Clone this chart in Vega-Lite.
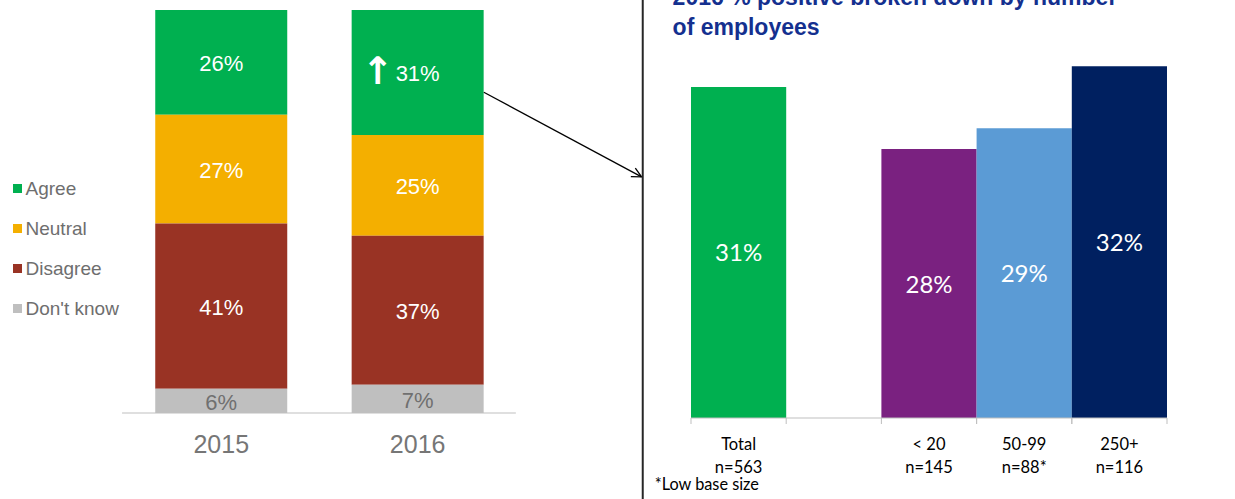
{
  "$schema": "https://vega.github.io/schema/vega-lite/v6.json",
  "width": 1235,
  "height": 413,
  "autosize": "none",
  "padding": {"left": 0, "top": 0, "right": 0, "bottom": 86},
  "config": {"view": {"stroke": null}, "font": "Liberation Sans"},
  "layer": [
    {
      "data": {"values": [
        {"year": 2015, "response": "Agree", "pct": 26, "label": "26%"},
        {"year": 2015, "response": "Neutral", "pct": 27, "label": "27%"},
        {"year": 2015, "response": "Disagree", "pct": 41, "label": "41%"},
        {"year": 2015, "response": "Don't know", "pct": 6, "label": "6%"},
        {"year": 2016, "response": "Agree", "pct": 31, "label": "31%", "trend": "up"},
        {"year": 2016, "response": "Neutral", "pct": 25, "label": "25%"},
        {"year": 2016, "response": "Disagree", "pct": 37, "label": "37%"},
        {"year": 2016, "response": "Don't know", "pct": 7, "label": "7%"}
      ]},
      "transform": [
        {"calculate": "indexof([\"Don't know\",\"Disagree\",\"Neutral\",\"Agree\"], datum.response)", "as": "stackOrder"},
        {"stack": "pct", "groupby": ["year"], "sort": [{"field": "stackOrder", "order": "ascending"}], "as": ["y0", "y1"]},
        {"calculate": "(datum.y0 + datum.y1) / 2", "as": "ymid"}
      ],
      "layer": [
        {
          "mark": {"type": "bar", "width": 132},
          "encoding": {
            "x": {"field": "year", "type": "quantitative", "axis": null,
              "scale": {"domain": [2013.899, 2020.136], "nice": false, "zero": false}},
            "y": {"field": "y0", "type": "quantitative", "scale": {"domain": [0, 102.48], "nice": false, "zero": false}, "axis": null},
            "y2": {"field": "y1"},
            "color": {"field": "response", "type": "nominal",
              "scale": {"domain": ["Agree", "Neutral", "Disagree", "Don't know"], "range": ["#00B050", "#F4AF00", "#993324", "#BFBFBF"]},
              "legend": {"orient": "none", "legendX": 8, "legendY": 179, "title": null, "symbolType": "square", "symbolSize": 81,
                "symbolStrokeWidth": 0, "labelFontSize": 19, "labelColor": "#6E6E6E", "labelFont": "Liberation Sans",
                "rowPadding": 20, "labelOffset": -1.5, "padding": 0}}
          }
        },
        {
          "mark": {"type": "text", "fontSize": 22, "font": "Liberation Sans", "baseline": "middle", "dy": 2},
          "encoding": {
            "x": {"field": "year", "type": "quantitative", "axis": null},
            "y": {"field": "ymid", "type": "quantitative", "axis": null},
            "text": {"field": "label"},
            "color": {"condition": {"test": "datum.response === \"Don't know\"", "value": "#707070"}, "value": "#FFFFFF"}
          }
        },
        {
          "transform": [{"filter": "datum.trend === 'up'"}],
          "mark": {"type": "text", "fontSize": 38, "fontWeight": "bold", "font": "DejaVu Sans", "baseline": "middle", "dx": -40, "dy": 1, "color": "#FFFFFF"},
          "encoding": {
            "x": {"field": "year", "type": "quantitative", "axis": null},
            "y": {"field": "ymid", "type": "quantitative", "axis": null},
            "text": {"value": "↑"}
          }
        },
        {
          "transform": [{"filter": "datum.response === 'Agree'"}],
          "mark": {"type": "text", "fontSize": 25, "font": "Liberation Sans", "baseline": "alphabetic", "color": "#767676"},
          "encoding": {
            "x": {"field": "year", "type": "quantitative", "axis": null},
            "y": {"datum": -9.93, "type": "quantitative", "axis": null},
            "text": {"field": "year", "type": "quantitative", "format": "d"}
          }
        },
        {
          "data": {"values": [{}]},
          "mark": {"type": "rule", "color": "#BFBFBF", "strokeWidth": 1},
          "encoding": {
            "x": {"datum": 2014.495, "type": "quantitative", "axis": null},
            "x2": {"datum": 2016.5},
            "y": {"datum": 0, "type": "quantitative", "axis": null}
          }
        },
        {
          "data": {"values": [{}]},
          "mark": {"type": "rule", "color": "#000000", "strokeWidth": 1.3},
          "encoding": {
            "x": {"datum": 2016.337, "type": "quantitative", "axis": null},
            "x2": {"datum": 2017.14},
            "y": {"datum": 79.6, "type": "quantitative", "axis": null},
            "y2": {"datum": 58.6}
          }
        },
        {
          "data": {"values": [{}]},
          "mark": {"type": "point", "shape": "M-1.6,-0.8L0,0L-1.6,0.8", "filled": false, "size": 144, "angle": 28, "stroke": "#000000", "strokeWidth": 1.3, "opacity": 1},
          "encoding": {
            "x": {"datum": 2017.14, "type": "quantitative", "axis": null},
            "y": {"datum": 58.6, "type": "quantitative", "axis": null}
          }
        },
        {
          "data": {"values": [{}]},
          "mark": {"type": "rule", "color": "#262626", "strokeWidth": 2},
          "encoding": {
            "x": {"datum": 2017.146, "type": "quantitative", "axis": null},
            "y": {"datum": 104, "type": "quantitative", "axis": null},
            "y2": {"datum": -22}
          }
        },
        {
          "data": {"values": [{}]},
          "mark": {"type": "text", "align": "left", "baseline": "alphabetic", "lineHeight": 30, "fontSize": 23, "fontWeight": "bold", "font": "Liberation Sans", "color": "#14308F"},
          "encoding": {
            "x": {"datum": 2017.298, "type": "quantitative", "axis": null},
            "y": {"datum": 101.24, "type": "quantitative", "axis": null},
            "text": {"value": ["2016 % positive broken down by number", "of employees"]}
          }
        },
        {
          "data": {"values": [{}]},
          "mark": {"type": "text", "align": "left", "baseline": "alphabetic", "fontSize": 16.3, "font": "Lato", "color": "#000000"},
          "encoding": {
            "x": {"datum": 2017.207, "type": "quantitative", "axis": null},
            "y": {"datum": -19.1, "type": "quantitative", "axis": null},
            "text": {"value": "*Low base size"}
          }
        }
      ]
    },
    {
      "data": {"values": [
        {"group": "Total\nn=563", "value": 31, "label": "31%"},
        {"group": "< 20\nn=145", "value": 28, "label": "28%"},
        {"group": "50-99\nn=88*", "value": 29, "label": "29%"},
        {"group": "250+\nn=116", "value": 32, "label": "32%"}
      ]},
      "transform": [{"calculate": "(datum.value + 15) / 2", "as": "mid"}],
      "layer": [
        {
          "mark": {"type": "bar"},
          "encoding": {
            "x": {"field": "group", "type": "nominal", "axis": null,
              "scale": {"domain": ["Total\nn=563", " ", "< 20\nn=145", "50-99\nn=88*", "250+\nn=116"], "range": [691, 1167], "paddingInner": 0, "paddingOuter": 0}},
            "y": {"field": "value", "type": "quantitative", "scale": {"domain": [15.242, 35.203], "nice": false, "zero": false}, "axis": null},
            "y2": {"datum": 15},
            "color": {"field": "group", "type": "nominal",
              "scale": {"domain": ["Total\nn=563", "< 20\nn=145", "50-99\nn=88*", "250+\nn=116"], "range": ["#00B050", "#7A2180", "#5B9BD5", "#002060"]},
              "legend": null}
          }
        },
        {
          "mark": {"type": "text", "fontSize": 24, "font": "Lato", "baseline": "middle", "dy": 2, "color": "#FFFFFF"},
          "encoding": {
            "x": {"field": "group", "type": "nominal", "axis": null},
            "y": {"field": "mid", "type": "quantitative", "axis": null},
            "text": {"field": "label"}
          }
        },
        {
          "mark": {"type": "text", "fontSize": 16.5, "font": "Lato", "baseline": "alphabetic", "lineBreak": "\n", "lineHeight": 23, "color": "#000000"},
          "encoding": {
            "x": {"field": "group", "type": "nominal", "axis": null},
            "y": {"datum": 13.453, "type": "quantitative", "axis": null},
            "text": {"field": "group"}
          }
        },
        {
          "data": {"values": [{}]},
          "mark": {"type": "rule", "color": "#BFBFBF", "strokeWidth": 1, "xOffset": -47.6, "x2Offset": 47.6},
          "encoding": {
            "x": {"datum": "Total\nn=563", "type": "nominal", "axis": null},
            "x2": {"datum": "250+\nn=116"},
            "y": {"datum": 15, "type": "quantitative", "axis": null}
          }
        },
        {
          "mark": {"type": "rule", "color": "#BFBFBF", "strokeWidth": 1, "xOffset": -47.6},
          "encoding": {
            "x": {"field": "group", "type": "nominal", "axis": null},
            "y": {"datum": 15, "type": "quantitative", "axis": null},
            "y2": {"datum": 14.71}
          }
        },
        {
          "mark": {"type": "rule", "color": "#BFBFBF", "strokeWidth": 1, "xOffset": 47.6},
          "encoding": {
            "x": {"field": "group", "type": "nominal", "axis": null},
            "y": {"datum": 15, "type": "quantitative", "axis": null},
            "y2": {"datum": 14.71}
          }
        }
      ]
    }
  ],
  "resolve": {"scale": {"x": "independent", "y": "independent", "color": "independent"}}
}
